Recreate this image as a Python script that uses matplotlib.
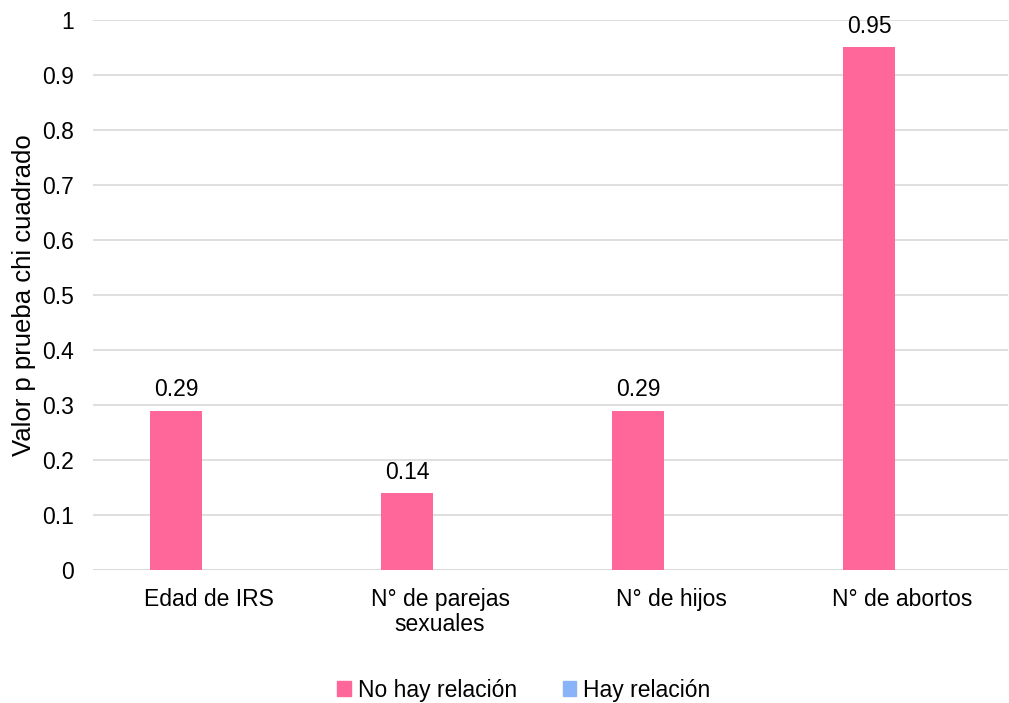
import numpy as np
import matplotlib.pyplot as plt
from matplotlib.patches import Patch

plt.rcParams['font.family'] = ['Liberation Sans', 'DejaVu Sans']

categorias = ["Edad de IRS", "N° de parejas\nsexuales", "N° de hijos", "N° de abortos"]
no_hay_relacion = [0.29, 0.14, 0.29, 0.95]
hay_relacion = [0, 0, 0, 0]
etiquetas = ["0.29", "0.14", "0.29", "0.95"]

rosa = '#FF6699'
azul = '#8AB4F8'
fs = 16.5

fig = plt.figure(figsize=(10.09, 7.03), dpi=100)
ax = fig.add_axes([0.0922, 0.189, 0.907, 0.7826])

x = np.arange(len(categorias))
w = 0.225
ax.bar(x, no_hay_relacion, width=w, color=rosa, zorder=3)
ax.bar(x + 0.286, hay_relacion, width=w, color=azul, zorder=3)

for xi, v, t in zip(x, no_hay_relacion, etiquetas):
    ax.text(xi, v + 0.017, t, ha='center', va='bottom', fontsize=fs, color='#000000')

ax.set_xlim(-0.359, 3.602)
ax.set_ylim(0, 1)
ax.set_yticks(np.arange(0, 1.01, 0.1))
ax.set_yticklabels(['0', '0.1', '0.2', '0.3', '0.4', '0.5', '0.6', '0.7', '0.8', '0.9', '1'])
ax.set_xticks(x + 0.143)
ax.set_xticklabels(categorias, linespacing=1.1)
ax.tick_params(axis='both', length=0, labelsize=fs, colors='#000000')
ax.tick_params(axis='x', pad=13)
ax.tick_params(axis='y', pad=14)
ax.grid(axis='y', color='#D9D9D9', linewidth=1.2, zorder=0)
for s in ax.spines.values():
    s.set_visible(False)
ax.axhline(0, color='#D9D9D9', linewidth=1.2, zorder=1)

ax.set_ylabel("Valor p prueba chi cuadrado", fontsize=18.5, labelpad=4)

handles = [Patch(color=rosa), Patch(color=azul)]
fig.legend(handles, ["No hay relación", "Hay relación"], loc='center',
           bbox_to_anchor=(0.519, 0.018), ncol=2, frameon=False, fontsize=fs,
           handlelength=0.6, handleheight=0.6, handletextpad=0.3, columnspacing=2.0)

fig.savefig('out.png', dpi=100)
